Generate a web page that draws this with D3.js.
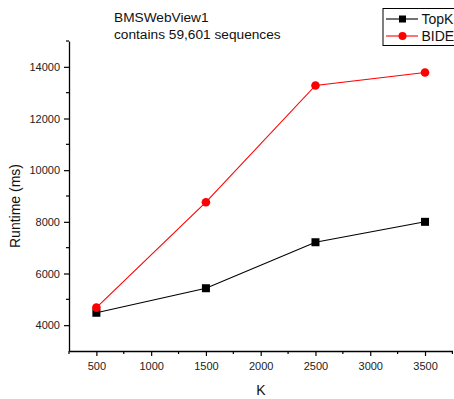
<!DOCTYPE html>
<html>
<head>
<meta charset="utf-8">
<script src="https://cdn.jsdelivr.net/npm/d3@7"></script>
<style>
  html, body { margin: 0; padding: 0; background: #fff; }
  svg { display: block; font-family: Arial, "Liberation Sans", sans-serif; }
</style>
</head>
<body>
<svg id="chart" width="454" height="399"></svg>
<script>
// Runtime comparison on BMSWebView1
const kValues = [500, 1500, 2500, 3500];
const topkRuntime = [4480, 5430, 7210, 8000];
const bideRuntime = [4680, 8760, 13280, 13780];
const xTickValues = [500, 1000, 1500, 2000, 2500, 3000, 3500];
const yTickValues = [4000, 6000, 8000, 10000, 12000, 14000];
const seriesNames = ["TopK", "BIDE"];
const titleLines = ["BMSWebView1", "contains 59,601 sequences"];

const svg = d3.select("#chart");
const plotLeft = 69, plotRight = 452.4, plotTop = 41, plotBottom = 351;

const x = d3.scaleLinear().domain([250, 3750]).range([plotLeft, plotRight]);
const y = d3.scaleLinear().domain([3000, 15000]).range([plotBottom, plotTop]);

// Axes: major ticks labelled, minor ticks between
const xAxis = d3.axisBottom(x).tickValues(xTickValues).tickSize(5).tickSizeOuter(0).tickPadding(6).tickFormat(d3.format("d"));
const yAxis = d3.axisLeft(y).tickValues(yTickValues).tickSize(5).tickSizeOuter(0).tickPadding(4).tickFormat(d3.format("d"));

const gx = svg.append("g").attr("transform", `translate(0,${plotBottom})`).call(xAxis);
const gy = svg.append("g").attr("transform", `translate(${plotLeft},0)`).call(yAxis);

[gx, gy].forEach(g => {
  g.select(".domain").attr("stroke", "#000").attr("stroke-width", 1.3);
  g.selectAll(".tick line").attr("stroke", "#000").attr("stroke-width", 1.2);
  g.selectAll(".tick text").attr("fill", "#222").style("font-size", "11px").style("font-family", "Arial, 'Liberation Sans', sans-serif");
});

// Minor ticks
const xMinor = d3.range(250, 3751, 500);
gx.selectAll(".minor").data(xMinor).enter().append("line")
  .attr("x1", d => x(d)).attr("x2", d => x(d)).attr("y1", 0).attr("y2", 3)
  .attr("stroke", "#000").attr("stroke-width", 1.2);
const yMinor = d3.range(5000, 15001, 2000);
gy.selectAll(".minor").data(yMinor).enter().append("line")
  .attr("y1", d => y(d)).attr("y2", d => y(d)).attr("x1", 0).attr("x2", -3)
  .attr("stroke", "#000").attr("stroke-width", 1.2);

// Axis titles
svg.append("text").attr("x", 261).attr("y", 395).attr("text-anchor", "middle")
  .style("font-size", "14px").attr("fill", "#111").text("K");
svg.append("text").attr("transform", `translate(20,${206}) rotate(-90)`).attr("text-anchor", "middle")
  .style("font-size", "14px").attr("fill", "#111").text("Runtime (ms)");

// Chart title
svg.selectAll(".title").data(titleLines).enter().append("text")
  .attr("x", 114).attr("y", (d, i) => 22 + i * 17)
  .style("font-size", "13.7px").attr("fill", "#111").text(d => d);

// Series
const line = d3.line().x(d => x(d[0])).y(d => y(d[1]));
const topkData = kValues.map((k, i) => [k, topkRuntime[i]]);
const bideData = kValues.map((k, i) => [k, bideRuntime[i]]);

svg.append("path").datum(topkData).attr("d", line).attr("fill", "none").attr("stroke", "#000").attr("stroke-width", 1.1);
svg.append("path").datum(bideData).attr("d", line).attr("fill", "none").attr("stroke", "#ff0000").attr("stroke-width", 1.1);

svg.selectAll(".sq").data(topkData).enter().append("rect")
  .attr("x", d => x(d[0]) - 4).attr("y", d => y(d[1]) - 4).attr("width", 8).attr("height", 8).attr("fill", "#000");
svg.selectAll(".dot").data(bideData).enter().append("circle")
  .attr("cx", d => x(d[0])).attr("cy", d => y(d[1])).attr("r", 4.3).attr("fill", "#ff0000");

// Legend
const lg = svg.append("g");
lg.append("rect").attr("x", 383).attr("y", 8.5).attr("width", 80).attr("height", 37)
  .attr("fill", "#fff").attr("stroke", "#000").attr("stroke-width", 1);
const legendColors = ["#000", "#ff0000"];
seriesNames.forEach((name, i) => {
  const cy = 19 + i * 17;
  lg.append("line").attr("x1", 386).attr("x2", 418).attr("y1", cy).attr("y2", cy)
    .attr("stroke", legendColors[i]).attr("stroke-width", 1.1);
  if (i === 0) {
    lg.append("rect").attr("x", 399).attr("y", cy - 3.5).attr("width", 7).attr("height", 7).attr("fill", "#000");
  } else {
    lg.append("circle").attr("cx", 402.5).attr("cy", cy).attr("r", 4).attr("fill", "#ff0000");
  }
  lg.append("text").attr("x", 421.5).attr("y", cy + 5).style("font-size", "14px").attr("fill", "#111").text(name);
});
</script>
</body>
</html>
